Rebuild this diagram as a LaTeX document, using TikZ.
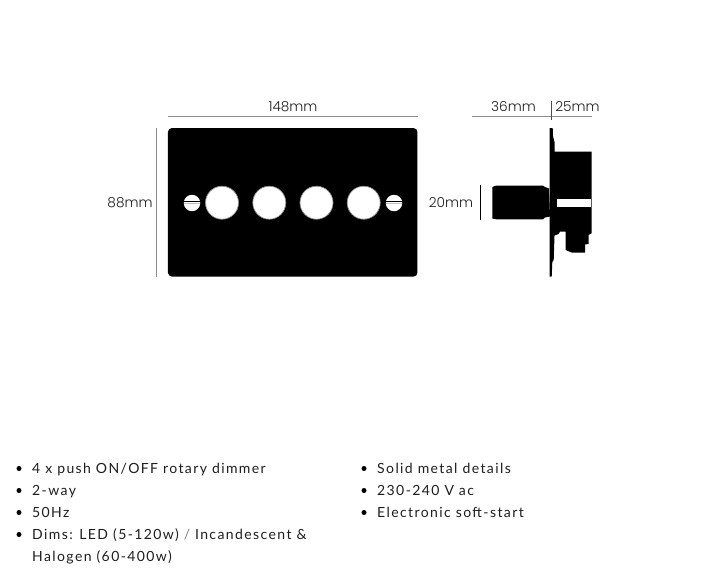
\documentclass[tikz,border=0pt]{standalone}
\usepackage{fontspec}
\setmainfont{Lato}
\newfontfamily\dimfont{Poppins Light}
\newfontfamily\listfont[LetterSpace=10]{Lato}
\definecolor{dimline}{HTML}{8C8C8C}
\definecolor{textcol}{HTML}{1E1E1E}
\tikzset{
    dimlabel/.style={font=\dimfont\fontsize{13.7}{16}\selectfont, text=textcol, inner sep=0pt},
    itemtext/.style={font=\listfont\fontsize{14}{16}\selectfont, text=textcol, inner sep=0pt, anchor=base west},
    itemdot/.style={circle, fill=black, inner sep=0pt, minimum size=5pt},
    knob/.style={circle, fill=white, draw=black!45, line width=0.7pt, inner sep=0pt, minimum size=33pt},
    screw/.style={circle, fill=white, inner sep=0pt, minimum size=16.5pt}
}
\begin{document}
\begin{tikzpicture}[x=1pt, y=-1pt]
    \useasboundingbox (0, 0) rectangle (706, 570);

    % Front plate
    \node[fill=black, rounded corners=4pt, inner sep=0pt, minimum width=249.5pt, minimum height=148.5pt] (plate) at (292.7, 202.3) {};
    \node[knob] (k1) at (222, 202.7) {};
    \node[knob] (k2) at (269.3, 202.7) {};
    \node[knob] (k3) at (316.5, 202.7) {};
    \node[knob] (k4) at (363.7, 202.7) {};
    \node[screw] (s1) at (192, 203) {};
    \node[screw] (s2) at (394, 203) {};

    % Screw slots
    \foreach \s in {s1, s2} {
        \draw[black, line width=1pt] (\s.west) ++(0, -1.2) -- ++(16.5, 0);
        \draw[black!25, line width=1.2pt] (\s.west) ++(0, 0.6) -- ++(16.5, 0);
    }

    % Side view
    \fill[black] (549.7, 128) -- (552.7, 128) -- (553, 136) -- (554.7, 143) -- (554.7, 151.7) -- (591.7, 151.7)
        -- (591.7, 233.3) -- (588.5, 235) -- (588.5, 244) -- (585, 244.5) -- (585, 252.7)
        -- (572, 252.7) -- (565.7, 250) -- (565.7, 231.7) -- (560, 231.7) -- (558.5, 234) -- (554.5, 235.5)
        -- (553.7, 260) -- (552.3, 262) -- (551.7, 276.7) -- (549.7, 276.7) -- cycle;
    \fill[black] (492.3, 187) -- (496, 185.7) -- (543, 185.7) -- (545, 187) -- (549, 188.5) -- (550, 216.5) -- (545, 217.5) -- (543, 219.3)
        -- (496, 219.3) -- (492.3, 218.5) -- cycle;
    \fill[white] (557, 199.3) rectangle (590.7, 206.7);

    % Dimensions
    \node[dimlabel] (w) at (293, 106.5) {148mm};
    \node[dimlabel] (h) at (130, 202.5) {88mm};
    \node[dimlabel] (d1) at (513.5, 106.5) {36mm};
    \node[dimlabel] (d2) at (577.5, 106.5) {25mm};
    \node[dimlabel] (kd) at (451, 202.5) {20mm};

    \coordinate (wa) at (168, 116.5);
    \coordinate (wb) at (418, 116.5);
    \coordinate (ha) at (156.5, 128);
    \coordinate (hb) at (156.5, 276.5);
    \coordinate (da) at (472, 116.5);
    \coordinate (db) at (591.5, 116.5);
    \coordinate (ta) at (551.5, 101);
    \coordinate (tb) at (551.5, 120);
    \coordinate (ka) at (480.5, 185);
    \coordinate (kb) at (480.5, 219.5);

    \draw[dimline, line width=0.8pt] (wa) -- (wb);
    \draw[dimline, line width=1pt] (ha) -- (hb);
    \draw[dimline, line width=0.8pt] (da) -- (db);
    \draw[black!70, line width=0.7pt] (ta) -- (tb);
    \draw[black, line width=0.8pt] (ka) -- (kb);

    % Left list
    \node[itemdot] (d1a) at (19, 468.5) {};
    \node[itemdot] (d2a) at (19, 490.5) {};
    \node[itemdot] (d3a) at (19, 512.5) {};
    \node[itemdot] (d4a) at (19, 534.5) {};
    \node[itemtext] (t1a) at (32, 473) {4 x push ON/OFF rotary dimmer};
    \node[itemtext] (t2a) at (32, 495) {2-way};
    \node[itemtext] (t3a) at (32, 517) {50Hz};
    \node[itemtext] (t4a) at (32, 539) {Dims: LED (5-120w) {\color{gray}/} Incandescent \&};
    \node[itemtext] (t5a) at (32, 561) {Halogen (60-400w)};

    % Right list
    \node[itemdot] (d1b) at (364, 468.5) {};
    \node[itemdot] (d2b) at (364, 490.5) {};
    \node[itemdot] (d3b) at (364, 512.5) {};
    \node[itemtext] (t1b) at (377, 473) {Solid metal details};
    \node[itemtext] (t2b) at (377, 495) {230-240 V ac};
    \node[itemtext] (t3b) at (377, 517) {Electronic soft-start};

\end{tikzpicture}
\end{document}
